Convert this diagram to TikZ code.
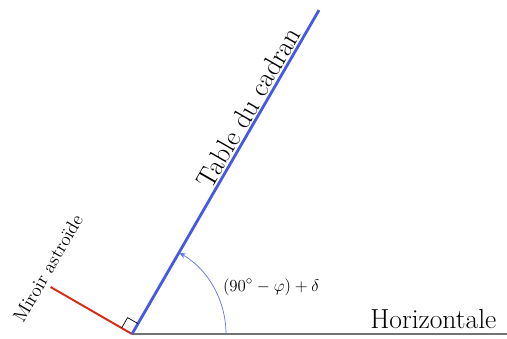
\documentclass[tikz,border=0pt]{standalone}
\usepackage{tikz}
\usetikzlibrary{arrows.meta,calc}

\begin{document}
\begin{tikzpicture}[
  table/.style={line width=2pt, color={rgb,255:red,70;green,90;blue,225}},
  miroir/.style={line width=1.4pt, color={rgb,255:red,215;green,45;blue,20}},
  horiz/.style={line width=0.9pt, color=black!55},
  angle/.style={line width=0.5pt, color={rgb,255:red,100;green,115;blue,240}, -{Stealth[length=5pt]}},
  label/.style={inner sep=1pt, text=black}
]
  \useasboundingbox (0,0) rectangle (12.675,8.45);

  \coordinate (O) at (3.3,0.1);
  \coordinate (hend) at (12.675,0.1);
  \coordinate (tend) at ($(O)+(60:9.35)$);
  \coordinate (mend) at ($(O)+(150:2.35)$);

  \draw[horiz] (O) -- (hend);
  \draw[miroir] (O) -- (mend);
  \draw[table] (O) -- (tend)
    node[label, pos=0.68, sloped, above, font=\fontsize{19.6}{23}\selectfont] (tlabel) {Table du cadran};

  % angle droit
  \draw[line width=0.5pt] ($(O)+(60:0.3)$) -- ++(150:0.3) -- ($(O)+(150:0.3)$);

  \draw[angle] ($(O)+(0:2.35)$) arc[start angle=0, end angle=60, radius=2.35];

  \node[label, font=\fontsize{13}{16}\selectfont] (alabel) at (6.78,1.28) {$(90^\circ-\varphi)+\delta$};
  \node[label, anchor=base east, font=\fontsize{19.6}{23}\selectfont] (hlabel) at (12.45,0.25) {Horizontale};
  \node[label, rotate=60, font=\fontsize{13.4}{16}\selectfont] (mlabel) at (1.2,1.75) {Miroir astro\"ide};
\end{tikzpicture}
\end{document}
